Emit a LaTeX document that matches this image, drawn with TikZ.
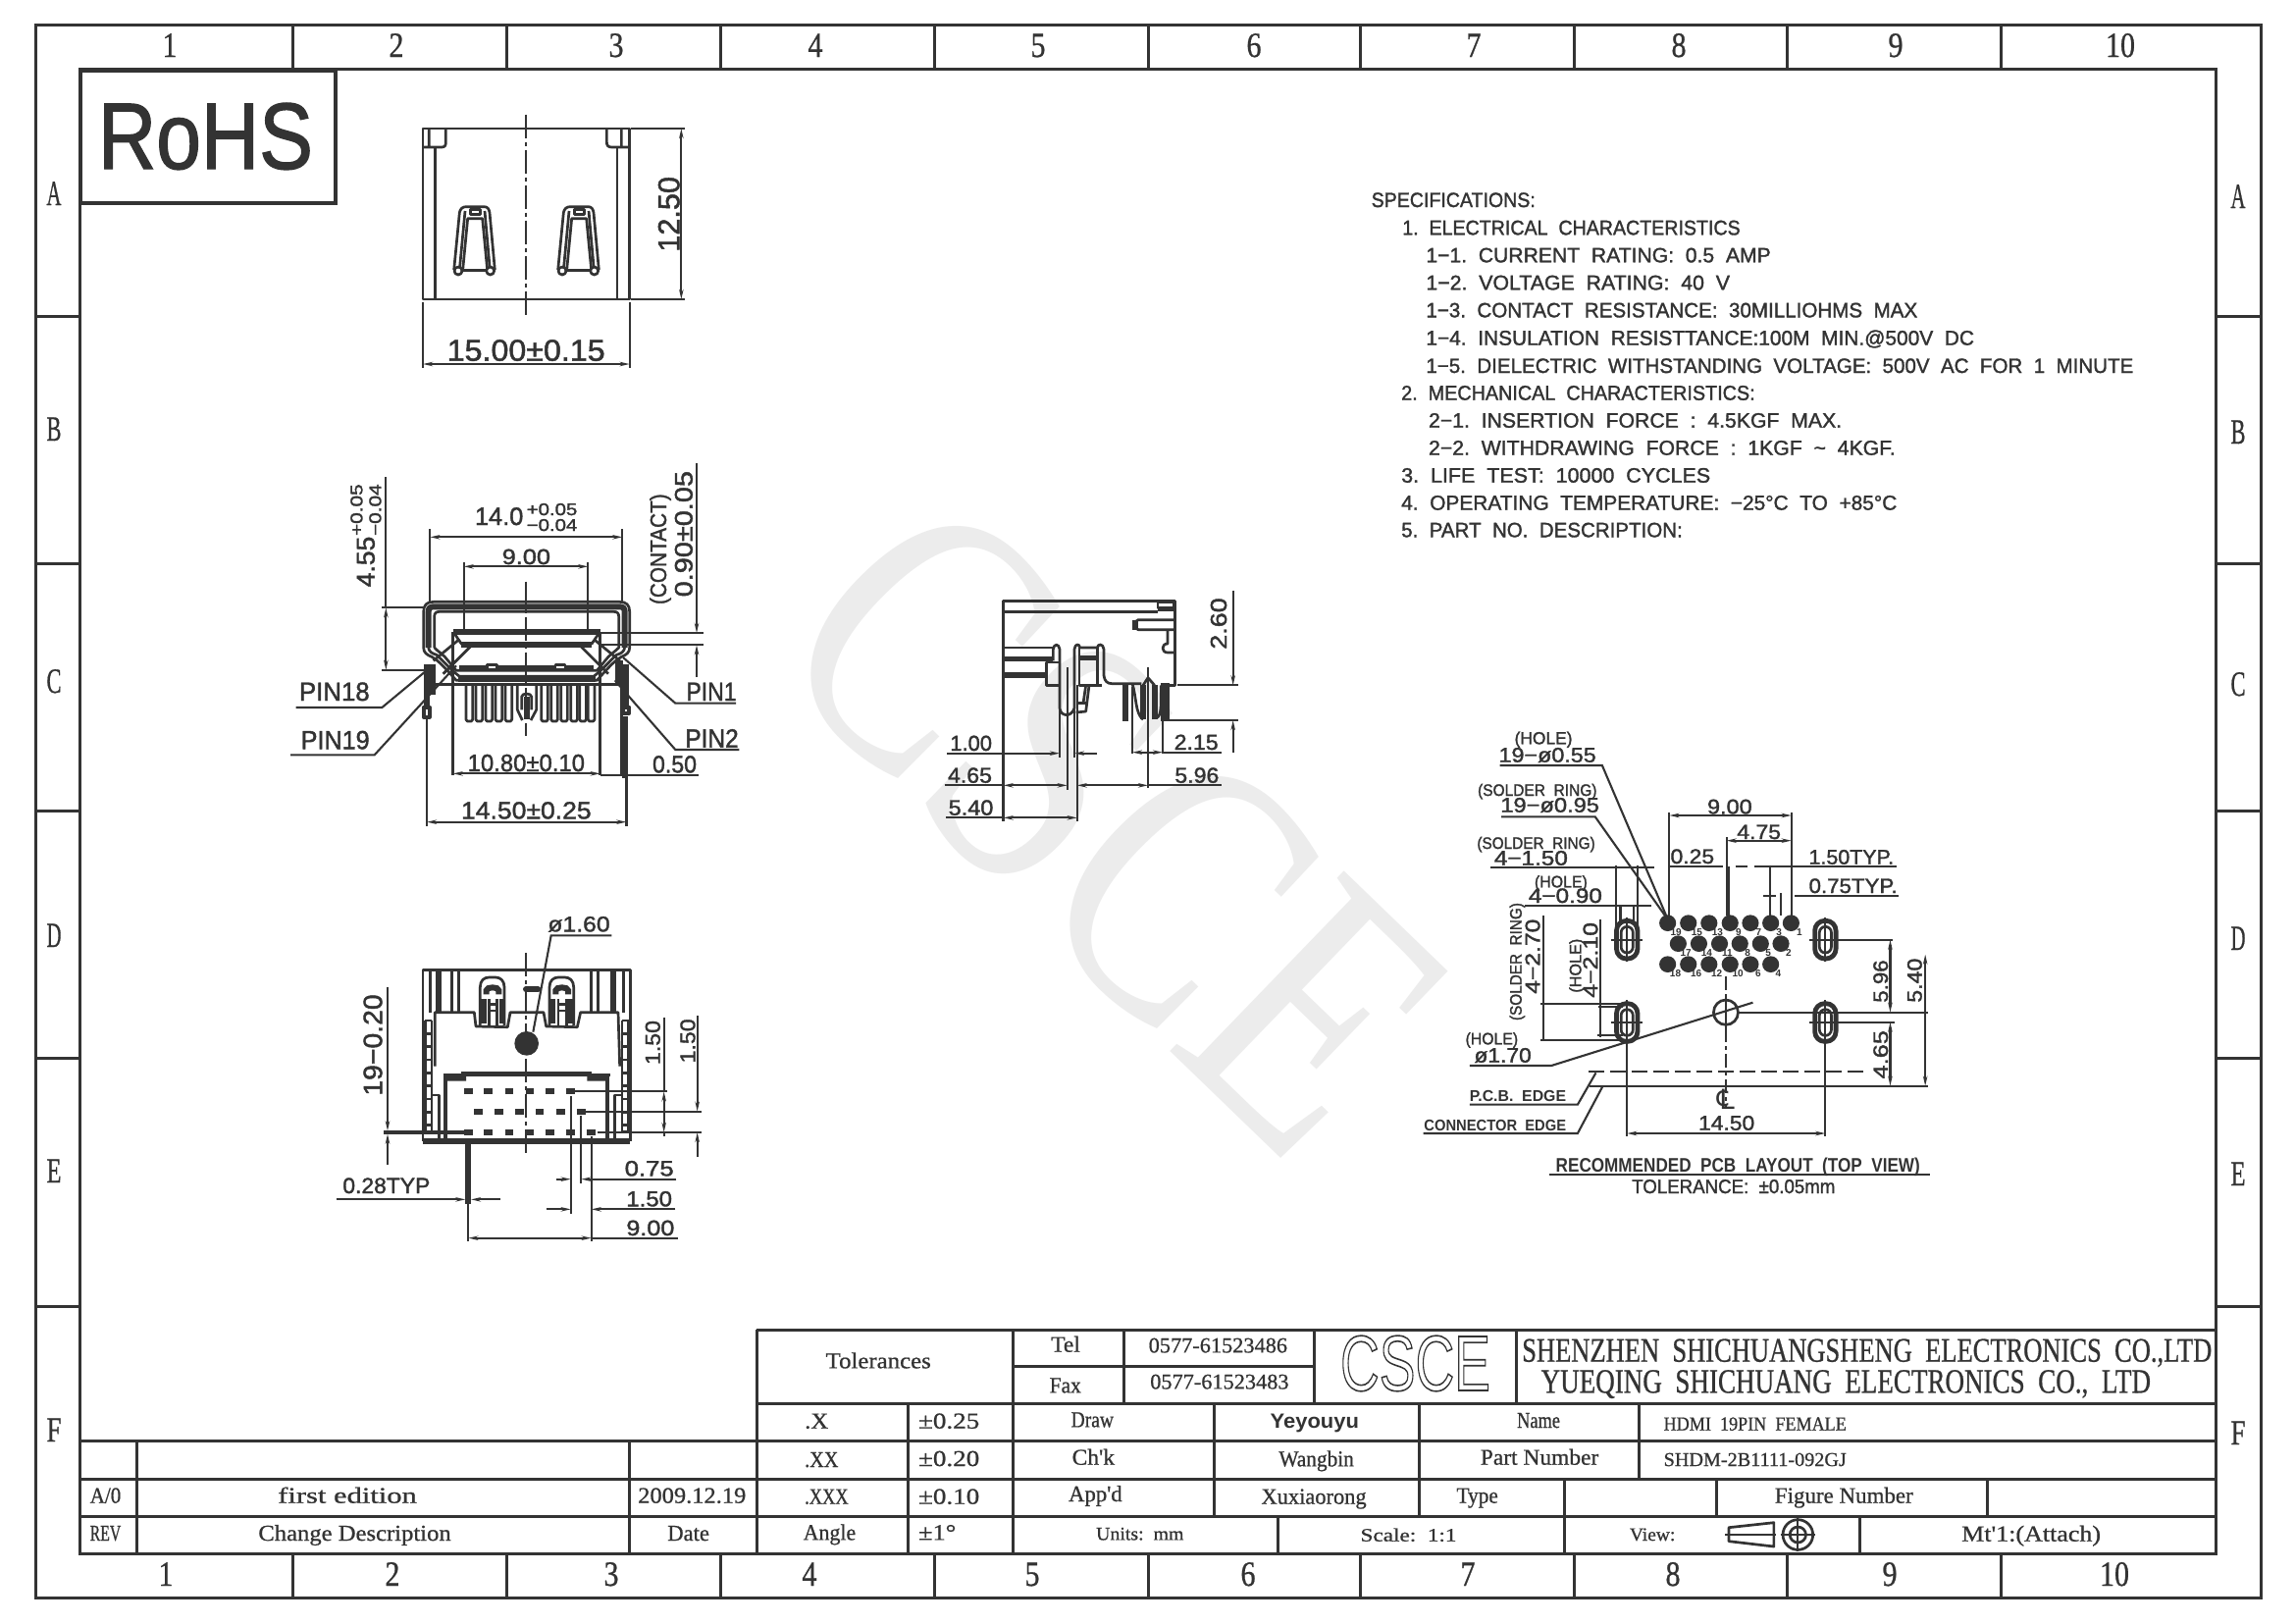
\documentclass[tikz,border=0pt]{standalone}
\usepackage{fontspec}
\usepackage{graphicx}
\setmainfont{Liberation Serif}
\setsansfont{Liberation Sans}
\newfontfamily\djv{DejaVu Sans}
\newfontfamily\eng[FakeBold=1.5]{Liberation Sans}
\newfontfamily\srf[FakeBold=0.8]{Liberation Serif}
\usetikzlibrary{arrows.meta}
\definecolor{ink}{HTML}{333333}
\definecolor{wmark}{HTML}{ECECEC}
\newdimen\wu \wu=0.5pt
\newdimen\wuv \wuv=0.5pt
\newcount\lblc
\newcommand\hS[5]{\global\advance\lblc by 1
  \node[lab,name=t\the\lblc] at (#1,#3) {\resizebox{\numexpr#2-#1\relax\wu}{\height}{\fontsize{#4}{#4}\selectfont\eng #5}};}
\newcommand\hR[5]{\global\advance\lblc by 1
  \node[lab,name=t\the\lblc] at (#1,#3) {\resizebox{\numexpr#2-#1\relax\wu}{\height}{\fontsize{#4}{#4}\selectfont\srf #5}};}
\newcommand\hB[5]{\global\advance\lblc by 1
  \node[lab,name=t\the\lblc] at (#1,#3) {\resizebox{\numexpr#2-#1\relax\wu}{\height}{\fontsize{#4}{#4}\selectfont\sffamily\bfseries #5}};}
\newcommand\hP[5]{\global\advance\lblc by 1
  \node[lab,name=t\the\lblc] at (#1,#3) {\resizebox{\numexpr#2-#1\relax\wu}{\height}{\fontsize{#4}{#4}\selectfont\sffamily #5}};}
\newcommand\vS[5]{\global\advance\lblc by 1
  \node[lab,rotate=90,name=t\the\lblc] at (#1,#2) {\resizebox{\numexpr#2-#3\relax\wuv}{\height}{\fontsize{#4}{#4}\selectfont\eng #5}};}
\newcommand\cL[4]{\global\advance\lblc by 1
  \node[lab,anchor=base,name=t\the\lblc] at (#1,#2) {\resizebox{#3\wu}{\height}{\fontsize{18}{18}\selectfont\srf #4}};}
\newcommand\pn[3]{\global\advance\lblc by 1
  \node[lab,anchor=center,name=t\the\lblc] at (#1,#2) {\fontsize{5}{5}\selectfont\sffamily\bfseries #3};}
\newcommand\hollowtext[1]{\special{pdf:literal direct 1 Tr 0.8 w}#1\special{pdf:literal direct 0 Tr}}
\begin{document}
\begin{tikzpicture}[x=0.5pt,y=-0.5pt,
  lab/.style={anchor=base west,inner sep=0pt,outer sep=0pt,text=ink},
  obj/.style={draw=ink,line width=1.35pt,line join=round},
  hvy/.style={draw=ink,line width=3pt},
  dimln/.style={draw=ink,line width=1.05pt},
  cline/.style={draw=ink,line width=1.1pt,dash pattern=on 12pt off 2pt on 2pt off 2pt},
  grid/.style={draw=ink,line width=1.5pt},
  >={Stealth[length=5pt,width=2.2pt]},
  zt/.style={x=0.166667pt,y=-0.166667pt}]
\useasboundingbox (0,0) rectangle (2339,1654);
\fill[white] (0,0) rectangle (2339,1654);
% watermark
\node[anchor=base west,inner sep=0pt,rotate=-44,text=wmark,name=wm] at (778,672)
  {\resizebox{375pt}{\height}{\fontsize{195}{195}\selectfont\rmfamily CSCE}};
% frame
\draw[grid] (36,25) rectangle (2304,1628);
\draw[grid] (81.5,70) rectangle (2258,1583);
\foreach \x in {298,516,734,952,1170,1386,1604,1821,2039}{
  \draw[grid] (\x,25)--(\x,70);
  \draw[grid] (\x,1583)--(\x,1628);}
\foreach \y in {322,574,826,1078,1331}{
  \draw[grid] (36,\y)--(81.5,\y);
  \draw[grid] (2258,\y)--(2304,\y);}
\cL{173}{58}{15}{1}\cL{404}{58}{15}{2}\cL{628}{58}{15}{3}\cL{831}{58}{15}{4}\cL{1058}{58}{15}{5}
\cL{1278}{58}{15}{6}\cL{1502}{58}{15}{7}\cL{1711}{58}{15}{8}\cL{1932}{58}{15}{9}\cL{2161}{58}{30}{10}
\cL{169}{1616}{15}{1}\cL{400}{1616}{15}{2}\cL{623}{1616}{15}{3}\cL{825}{1616}{15}{4}\cL{1052}{1616}{15}{5}
\cL{1272}{1616}{15}{6}\cL{1496}{1616}{15}{7}\cL{1705}{1616}{15}{8}\cL{1926}{1616}{15}{9}\cL{2155}{1616}{30}{10}
\cL{55}{209}{15}{A}\cL{55}{449}{15}{B}\cL{55}{706}{15}{C}\cL{55}{965}{15}{D}\cL{55}{1205}{15}{E}\cL{55}{1469}{15}{F}
\cL{2281}{212}{15}{A}\cL{2281}{452}{15}{B}\cL{2281}{709}{15}{C}\cL{2281}{968}{15}{D}\cL{2281}{1208}{15}{E}\cL{2281}{1472}{15}{F}
% RoHS
\draw[draw=ink,line width=2.4pt] (82,72) rectangle (342,207);
\hS{100}{319}{172}{48}{RoHS}
% title block grid
\draw[grid] (771,1355)--(2258,1355);
\draw[grid] (771,1355)--(771,1583);
\draw[grid] (771,1430)--(2258,1430);
\draw[grid] (81.5,1468)--(2258,1468);
\draw[grid] (81.5,1507)--(2258,1507);
\draw[grid] (81.5,1545)--(2258,1545);
\draw[grid] (1032,1392)--(1339,1392);
\draw[grid] (139,1468)--(139,1583);
\draw[grid] (641,1468)--(641,1583);
\draw[grid] (925,1430)--(925,1583);
\draw[grid] (1032,1355)--(1032,1583);
\draw[grid] (1145,1355)--(1145,1430);
\draw[grid] (1339,1355)--(1339,1430);
\draw[grid] (1545,1355)--(1545,1430);
\draw[grid] (1237,1430)--(1237,1545);
\draw[grid] (1446,1430)--(1446,1545);
\draw[grid] (1670,1430)--(1670,1507);
\draw[grid] (1594,1507)--(1594,1583);
\draw[grid] (1749,1507)--(1749,1545);
\draw[grid] (2025,1507)--(2025,1545);
\draw[grid] (1302,1545)--(1302,1583);
\draw[grid] (1895,1545)--(1895,1583);
% logo
\hP{1366}{1519}{1417}{40}{\hollowtext{CSCE}}
% title block texts
\begin{scope}[shift={(760,1340)},x=0.2551pt,y=-0.166667pt]
\wu=0.2551pt
\hR{160}{370}{163}{11.5}{Tolerances}
\hR{610}{668}{113}{11.5}{Tel}
\hR{607}{670}{238}{11.5}{Fax}
\hR{805}{1082}{115}{11}{0577-61523486}
\hR{808}{1085}{226}{11}{0577-61523483}
\hR{650}{735}{343}{11.5}{Draw}
\hR{652}{737}{458}{11.5}{Ch'k}
\hR{645}{752}{570}{11.5}{App'd}
\hR{118}{165}{347}{11.5}{.X}
\hR{118}{185}{465}{11.5}{.XX}
\hR{118}{205}{578}{11.5}{.XXX}
\hR{115}{220}{688}{11.5}{Angle}
\hR{345}{467}{347}{11.5}{±0.25}
\hR{345}{467}{462}{11.5}{±0.20}
\hR{345}{467}{578}{11.5}{±0.10}
\hR{345}{420}{688}{11.5}{±1°}
\hB{1048}{1225}{345}{10.5}{Yeyouyu}
\hR{1065}{1215}{463}{11.5}{Wangbin}
\hR{1030}{1240}{578}{11.5}{Xuxiaorong}
\hR{700}{875}{688}{9.5}{Units:~~mm}
\hR{1228}{1420}{692}{9.5}{Scale:~~1:1}
\hR{1420}{1503}{575}{11.5}{Type}
\end{scope}
\begin{scope}[shift={(1540,1340)},x=0.2551pt,y=-0.166667pt]
\wu=0.2551pt
\hR{22}{1400}{143}{17.5}{SHENZHEN~~SHICHUANGSHENG~~ELECTRONICS~~CO.,LTD}
\hR{60}{1278}{238}{17.5}{YUEQING~~SHICHUANG~~ELECTRONICS~~CO.,~~LTD}
\hR{12}{98}{345}{11.5}{Name}
\hR{-61}{175}{458}{11.5}{Part Number}
\hR{305}{670}{353}{10}{HDMI~~19PIN~~FEMALE}
\hR{305}{670}{462}{10}{SHDM-2B1111-092GJ}
\hR{527}{803}{575}{11.5}{Figure Number}
\hR{237}{328}{690}{9.5}{View:}
\hR{900}{1178}{692}{11.5}{Mt'1:(Attach)}
\draw[obj] (435,650)--(525,635)--(525,708)--(435,692)--cycle;
\draw[obj] (428,672)--(530,672);
\draw[obj] (573,672) circle[x radius=30,y radius=46];
\draw[obj] (573,672) circle[x radius=16,y radius=24];
\draw[dimln] (573,620)--(573,722);
\draw[dimln] (538,672)--(608,672);
\end{scope}
\begin{scope}[shift={(20,1400)},x=0.2424pt,y=-0.166667pt]
\wu=0.2424pt
\hR{148}{213}{395}{11.5}{A/0}
\hR{543}{835}{395}{11.5}{first edition}
\hR{1300}{1527}{395}{11.5}{2009.12.19}
\hR{148}{213}{510}{11.5}{REV}
\hR{502}{907}{510}{11.5}{Change Description}
\hR{1362}{1450}{510}{11.5}{Date}
\end{scope}
% specifications
\begin{scope}[shift={(1380,180)},x=0.2678pt,y=-0.166667pt]
\wu=0.2678pt
\hS{33}{345}{93}{10.5}{SPECIFICATIONS:}
\hS{92}{735}{178}{10.5}{1.~~ELECTRICAL~~CHARACTERISTICS}
\hS{137}{793}{262}{10.5}{1−1.~~CURRENT~~RATING:~~0.5~~AMP}
\hS{137}{715}{346}{10.5}{1−2.~~VOLTAGE~~RATING:~~40~~V}
\hS{137}{1072}{430}{10.5}{1−3.~~CONTACT~~RESISTANCE:~~30MILLIOHMS~~MAX}
\hS{137}{1180}{515}{10.5}{1−4.~~INSULATION~~RESISTTANCE:100M~~MIN.@500V~~DC}
\hS{137}{1483}{600}{10.5}{1−5.~~DIELECTRIC~~WITHSTANDING~~VOLTAGE:~~500V~~AC~~FOR~~1~~MINUTE}
\hS{90}{763}{683}{10.5}{2.~~MECHANICAL~~CHARACTERISTICS:}
\hS{142}{928}{767}{10.5}{2−1.~~INSERTION~~FORCE~~:~~4.5KGF~~MAX.}
\hS{142}{1030}{851}{10.5}{2−2.~~WITHDRAWING~~FORCE~~:~~1KGF~~\textasciitilde{}~~4KGF.}
\hS{90}{678}{935}{10.5}{3.~~LIFE~~TEST:~~10000~~CYCLES}
\hS{90}{1033}{1019}{10.5}{4.~~OPERATING~~TEMPERATURE:~~−25°C~~TO~~+85°C}
\hS{90}{625}{1102}{10.5}{5.~~PART~~NO.~~DESCRIPTION:}
\end{scope}
% ------- top view
\begin{scope}[shift={(280,100)},zt]
\wu=0.166667pt \wuv=0.166667pt
\draw[obj] (453,93) rectangle (1085,615);
\draw[obj] (490,150)--(490,615) (1047,150)--(1047,615);
\draw[obj] (453,150)--(510,150)..controls (520,150) and (523,145)..(523,135)--(523,93) (472,93)--(472,150);
\draw[obj] (1085,150)--(1030,150)..controls (1020,150) and (1015,145)..(1015,135)--(1015,93) (1060,93)--(1060,150);
\draw[cline] (769,50)--(769,668);
\foreach \dx in {0,318}{
\begin{scope}[shift={(\dx,0)}]
\draw[obj] (548,525)--(565,350)..controls (567,338) and (575,332)..(585,332)--(640,332)..controls (650,332) and (655,338)..(657,350)--(673,525);
\draw[obj] (575,525)--(590,368)--(635,368)--(650,525);
\draw[obj] (565,525)--(582,345) (658,525)--(642,345);
\draw[obj] (575,527)--(647,527);
\draw[obj] (598,340) rectangle (628,356);
\draw[obj,fill=white] (561,528) circle[radius=12];
\draw[obj,fill=white] (659,528) circle[radius=12];
\end{scope}}
\draw[dimln] (1090,93)--(1255,93) (1090,615)--(1255,615);
\draw[dimln,<->] (1243,93)--(1243,615);
\vS{1237}{470}{240}{15.4}{12.50}
\draw[dimln] (453,625)--(453,825) (1085,625)--(1085,825);
\draw[dimln,<->] (453,813)--(1085,813);
\hS{527}{1010}{803}{15.4}{15.00±0.15}
\end{scope}
% ------- front view
\begin{scope}[shift={(280,460)},zt]
\wu=0.166667pt \wuv=0.166667pt
\draw[obj] (455,600)--(455,490)..controls (455,470) and (465,460)..(485,460)--(1055,460)..controls (1075,460) and (1085,470)..(1085,490)--(1085,600)..controls (1085,615) and (1075,622)..(1060,628)..controls (1040,640) and (1030,650)..(985,700)--(555,700)..controls (510,650) and (500,640)..(480,628)..controls (465,622) and (455,615)..(455,600);
\draw[hvy] (470,600)--(470,490)..controls (470,480) and (475,475)..(485,475)--(1055,475)..controls (1065,475) and (1070,480)..(1070,490)--(1070,600);
\draw[obj] (470,600)..controls (472,612) and (480,618)..(495,622)..controls (515,640) and (535,665)..(565,688)--(975,688)..controls (1005,665) and (1025,640)..(1045,622)..controls (1060,618) and (1068,612)..(1070,600);
\draw[obj] (488,600)--(488,505)..controls (488,495) and (493,490)..(503,490)--(1037,490)..controls (1047,490) and (1052,495)..(1052,505)--(1052,600)..controls (1040,612) and (1030,618)..(1020,628)--(985,670)--(555,670)--(520,628)..controls (510,618) and (500,612)..(488,600);
\draw[hvy] (560,695)--(980,695);
\draw[hvy] (545,552)--(995,552);
\draw[hvy] (570,592)--(970,592);
\draw[obj] (545,552)--(545,990) (995,552)--(995,990);
\draw[obj] (548,555)--(572,590) (992,555)--(968,590);
\draw[obj] (600,595)--(515,680) (935,595)--(1020,680);
\draw[obj] (560,578)--(485,640) (980,578)--(1055,640);
\draw[hvy] (565,662)--(975,662);
\draw[obj,fill=white] (650,652) rectangle (680,666);
\draw[obj,fill=white] (858,652) rectangle (888,666);
\draw[obj] (490,712)--(1060,712);
\foreach \x in {585,615,645,675,705,815,845,875,905,932,958}{
  \draw[obj] (\x,712)--(\x,820)--(\x+4,825)--(\x+16,825)--(\x+20,820)--(\x+20,712);}
\draw[obj] (742,712)--(742,790)--(757,822) (800,712)--(800,790)--(783,822);
\draw[obj] (755,790)--(755,750)..controls (755,738) and (785,738)..(785,750)--(785,790);
\draw[hvy] (770,750)--(770,820);
\draw[cline] (769,398)--(769,870);
\draw[hvy] (482,650)--(482,745);
\draw[hvy] (465,650)--(465,780);
\draw[obj,line width=2pt] (455,782) rectangle (473,812);
\draw[obj] (465,812)--(465,1145);
\draw[hvy] (1055,640)--(1055,715);
\draw[obj] (1045,640)--(1045,715) (1060,715)--(1060,990);
\draw[hvy] (1075,650)--(1075,780);
\draw[obj,line width=2pt] (1066,782) rectangle (1084,800);
\draw[hvy] (1072,810)--(1072,1000);
\draw[obj] (1075,1000)--(1075,1145);
% dims
\draw[dimln] (475,237)--(475,460) (1063,237)--(1063,460);
\draw[dimln,<->] (475,262)--(1063,262);
\hS{612}{760}{225}{12.8}{14.0}
\hS{770}{925}{195}{8.6}{+0.05}
\hS{770}{925}{243}{8.6}{−0.04}
\draw[dimln] (578,340)--(578,550) (958,340)--(958,550);
\draw[dimln,<->] (578,352)--(958,352);
\hS{695}{843}{345}{11}{9.00}
\draw[dimln] (328,478)--(460,478) (328,668)--(460,668);
\draw[dimln] (340,78)--(340,478);
\draw[dimln,<->] (340,478)--(340,668);
\vS{305}{415}{260}{13}{4.55}
\vS{268}{258}{100}{8.6}{+0.05}
\vS{325}{258}{100}{8.6}{−0.04}
\vS{1197}{468}{130}{11.6}{(CONTACT)}
\vS{1277}{445}{60}{12.8}{0.90±0.05}
\draw[dimln] (995,555)--(1310,555) (995,592)--(1310,592);
\draw[dimln,->] (1290,37)--(1290,555);
\draw[dimln,->] (1290,690)--(1290,592);
\hS{75}{290}{762}{13.3}{PIN18}
\draw[dimln] (65,783)--(328,783)--(470,665);
\hS{80}{290}{910}{13.3}{PIN19}
\draw[dimln] (48,928)--(305,928)--(555,655);
\hS{1258}{1412}{762}{13.3}{PIN1}
\draw[dimln] (1410,770)--(1225,770)--(1065,630);
\hS{1255}{1418}{905}{13.3}{PIN2}
\draw[dimln] (1420,912)--(1225,912)--(1040,700);
\hS{590}{948}{978}{12.3}{10.80±0.10}
\draw[dimln,<->] (545,985)--(995,985);
\hS{1155}{1290}{982}{12.3}{0.50}
\draw[dimln] (995,990)--(1295,990);
\hS{570}{968}{1123}{12.3}{14.50±0.25}
\draw[dimln,<->] (465,1133)--(1075,1133);
\end{scope}
% ------- bottom view
\begin{scope}[shift={(330,920)},zt]
\wu=0.166667pt \wuv=0.166667pt
\draw[obj] (303,728)--(303,205)--(937,205)--(937,728);
\draw[hvy] (303,728)--(937,728);
\foreach \x in {325,392,413,817,838,917}{\draw[obj] (\x,205)--(\x,335);}
\draw[hvy] (352,205)--(352,335) (885,205)--(885,335);
\draw[obj] (340,500)--(340,335)--(460,335)--(465,378)--(562,380)--(570,335)--(672,335)--(680,378)--(775,380)--(785,335)--(900,335)--(905,500);
\foreach \dx in {0,212}{
\begin{scope}[shift={(\dx,0)}]
\draw[obj] (478,375)--(478,258)..controls (478,238) and (490,228)..(505,228)--(525,228)..controls (540,228) and (552,238)..(552,258)--(552,375);
\draw[hvy] (497,280)--(497,268)..controls (497,256) and (535,256)..(535,268)--(535,280);
\draw[hvy] (488,295)--(488,370) (545,295)--(545,370);
\draw[obj] (505,310)--(530,310) (505,330)--(530,330) (505,295)--(505,375) (530,295)--(530,375);
\end{scope}}
\draw[hvy,line cap=round] (618,265)--(655,265);
\draw[cline] (618,153)--(618,770);
\fill[ink] (620,430) circle[radius=37];
\draw[dimln] (880,100)--(695,100)--(640,395);
\hS{685}{875}{88}{11}{ø1.60}
\foreach \x in {310,330,912,932}{\draw[obj] (\x,360)--(\x,700);}
\foreach \y in {360,400,440,480,520,560,600,640,680,700}{
  \draw[obj] (310,\y)--(330,\y) (912,\y)--(932,\y);}
\draw[obj] (330,588)--(352,588)--(352,725) (910,588)--(890,588)--(890,725);
\draw[line width=2pt,draw=ink] (372,527)--(372,725) (867,527)--(867,725);
\draw[obj] (365,527)--(875,527) (420,520)--(820,520);
\fill[ink] (378,527) rectangle (435,545) (805,527) rectangle (862,545);
\foreach \x in {442,503,567,630,692,755}{\fill[ink] (\x-13,568) rectangle (\x+13,586);}
\foreach \x in {472,535,598,660,725,787}{\fill[ink] (\x-13,630) rectangle (\x+13,647);}
\foreach \x in {442,503,567,630,692,755,818}{\fill[ink] (\x-13,693) rectangle (\x+13,711);}
\draw[line width=2.2pt,draw=ink] (183,702)--(430,702);
\fill[ink] (433,730) rectangle (450,920);
\draw[dimln] (768,577)--(1050,577) (800,638)--(1155,638) (838,702)--(1155,702);
\draw[dimln,<->] (1040,577)--(1040,702);
\draw[dimln] (1040,350)--(1040,577) (1040,702)--(1040,715);
\draw[dimln,->] (1142,345)--(1142,638);
\draw[dimln,->] (1142,778)--(1142,702);
\vS{1028}{495}{360}{10.7}{1.50}
\vS{1135}{490}{355}{10.7}{1.50}
\vS{178}{590}{280}{13.5}{19−0.20}
\draw[dimln,->] (195,258)--(195,697);
\draw[dimln,->] (195,800)--(195,707);
\hS{58}{325}{888}{11.2}{0.28TYP}
\draw[dimln,->] (38,907)--(433,907);
\draw[dimln,->] (540,907)--(450,907);
\draw[dimln] (442,920)--(442,1035);
\draw[dimln] (755,590)--(755,950) (787,650)--(787,858) (818,715)--(818,1035);
\draw[dimln,->] (710,845)--(755,845);
\draw[dimln,->] (1078,845)--(787,845);
\hS{920}{1070}{835}{11}{0.75}
\draw[dimln,->] (680,937)--(755,937);
\draw[dimln,->] (1075,937)--(818,937);
\hS{925}{1065}{928}{11}{1.50}
\draw[dimln] (818,1025)--(1082,1025);
\draw[dimln,<->] (442,1025)--(818,1025);
\hS{925}{1072}{1017}{11}{9.00}
\end{scope}
% ------- side view
\begin{scope}[shift={(950,590)},zt]
\wu=0.166667pt \wuv=0.166667pt
\draw[obj] (218,740)--(218,68)--(743,68)--(743,325)--(725,325);
\draw[obj] (218,100)--(690,100);
\draw[obj] (690,72) rectangle (740,88);
\fill[ink] (690,88) rectangle (740,100);
\draw[obj] (740,125)--(630,125)..controls (618,125) and (618,155)..(630,155)--(740,155);
\draw[hvy] (622,125)--(622,155);
\draw[obj] (720,155)--(720,198)..controls (700,198) and (700,225)..(720,225)--(740,225);
\draw[obj] (218,210)--(370,210) (218,290)--(350,290) (218,298)--(350,298);
\fill[ink] (218,238) rectangle (370,252);
\draw[obj] (390,255)--(350,255)--(350,325)--(390,325);
\draw[obj] (370,250)--(370,215)..controls (372,197) and (388,197)..(390,215)--(390,395)..controls (392,420) and (425,425)..(435,395)--(435,215)..controls (437,197) and (450,197)..(452,210)--(505,210)..controls (507,197) and (523,197)..(525,215)--(525,295)..controls (527,312) and (535,320)..(550,320)--(640,320);
\draw[obj] (450,210)--(450,325)--(520,325) (505,210)--(505,325);
\fill[ink] (450,235) rectangle (505,248);
\draw[obj] (480,325)--(470,405)--(440,408) (470,325)--(462,380);
\draw[obj] (445,380)--(475,380);
\draw[hvy] (590,320)--(590,435);
\draw[obj] (612,320)..controls (625,360) and (620,410)..(645,430) (700,325)..controls (698,370) and (705,420)..(685,425);
\draw[hvy] (645,430)--(645,325) (680,430)--(680,325);
\draw[obj] (645,325)--(660,302)--(680,325);
\fill[ink] (700,318) rectangle (725,435);
\draw[dimln] (413,270)--(413,645) (443,325)--(443,740) (390,400)--(390,545) (435,400)--(435,545) (612,330)--(612,535) (705,435)--(705,535) (660,270)--(660,640);
\draw[dimln] (750,325)--(935,325) (725,432)--(935,432);
\draw[dimln,->] (920,35)--(920,325);
\draw[dimln,->] (920,530)--(920,432);
\vS{900}{215}{58}{11.6}{2.60}
\hS{55}{183}{525}{11}{1.00}
\draw[dimln,->] (45,533)--(390,533);
\draw[dimln,->] (505,533)--(435,533);
\hS{740}{875}{522}{11}{2.15}
\draw[dimln] (885,530)--(705,530);
\draw[dimln,<->] (612,530)--(705,530);
\hS{48}{183}{623}{11}{4.65}
\draw[dimln] (38,631)--(218,631);
\draw[dimln,<->] (218,631)--(413,631);
\hS{742}{877}{623}{11}{5.96}
\draw[dimln] (885,631)--(660,631);
\draw[dimln,<->] (443,631)--(660,631);
\hS{50}{187}{722}{11}{5.40}
\draw[dimln] (42,730)--(218,730);
\draw[dimln,<->] (218,730)--(443,730);
\end{scope}
% ------- PCB layout
\begin{scope}[shift={(1440,730)},x=0.17857pt,y=-0.166667pt]
\wu=0.17857pt \wuv=0.166667pt
\foreach \x/\l in {727/19,786/15,845/13,905/9,963/7,1021/3,1079/1}{
  \fill[ink] (\x,632) circle[x radius=24,y radius=25];
  \pn{\x+24}{660}{\l}}
\foreach \x/\l in {757/17,816/14,875/11,933/8,992/5,1050/2}{
  \fill[ink] (\x,695) circle[x radius=24,y radius=25];
  \pn{\x+22}{722}{\l}}
\foreach \x/\l in {727/18,786/16,845/12,905/10,963/6,1021/4}{
  \fill[ink] (\x,758) circle[x radius=24,y radius=25];
  \pn{\x+22}{786}{\l}}
\foreach \cx/\cy in {611/683,611/936,1177/683,1177/936}{
  \draw[obj,line width=2.4pt,rounded corners=5pt] ({\cx-30},{\cy-58}) rectangle ({\cx+30},{\cy+58});
  \draw[obj,rounded corners=3pt] ({\cx-17},{\cy-40}) rectangle ({\cx+17},{\cy+40});
  \draw[dimln] (\cx,{\cy-68})--(\cx,{\cy+68}) ({\cx-45},\cy)--({\cx+45},\cy);}
\draw[obj] (893,905) circle[x radius=35,y radius=38];
\draw[dimln] (893,855)--(893,955);
\draw[dimln,dash pattern=on 7pt off 2pt on 2pt off 2pt] (893,795)--(893,855) (893,955)--(893,1200);
\draw[dimln] (248,150)--(540,150)--(725,615);
\hS{290}{455}{85}{8.8}{(HOLE)}
\hS{245}{523}{140}{10.5}{19−ø0.55}
\hS{185}{525}{243}{8.4}{(SOLDER~~RING)}
\hS{250}{532}{293}{10.5}{19−ø0.95}
\draw[dimln] (252,307)--(520,307)--(720,610);
\hS{183}{520}{405}{8.4}{(SOLDER~~RING)}
\hS{232}{442}{455}{10.5}{4−1.50}
\draw[dimln] (222,463)--(690,463);
\hS{347}{498}{523}{8.4}{(HOLE)}
\hS{330}{540}{570}{10.5}{4−0.90}
\draw[dimln] (320,578)--(680,578);
\draw[dimln] (580,455)--(580,680) (640,455)--(640,680) (592,578)--(592,640) (630,578)--(630,640);
\hS{840}{968}{298}{10.5}{9.00}
\draw[dimln,<->] (732,303)--(1080,303);
\draw[dimln] (730,295)--(730,610) (1080,295)--(1080,610);
\hS{925}{1050}{375}{10.5}{4.75}
\draw[dimln,<->] (895,380)--(1080,380);
\draw[dimln] (895,370)--(895,460);
\draw[hvy,line width=2pt] (900,460)--(900,610);
\hS{735}{860}{450}{10.5}{0.25}
\draw[dimln] (730,458)--(885,458) (920,458)--(955,458) (975,458)--(1095,458);
\hS{1130}{1372}{452}{10.5}{1.50TYP.}
\draw[dimln] (1095,460)--(1380,460);
\draw[dimln] (1020,455)--(1020,610) (1050,540)--(1050,610);
\hS{1130}{1382}{540}{10.5}{0.75TYP.}
\draw[dimln] (1090,548)--(1385,548) (1000,548)--(1035,548);
\vS{310}{930}{570}{8.4}{(SOLDER~~RING)}
\vS{362}{848}{620}{10.5}{4−2.70}
\draw[dimln] (372,610)--(372,990) (365,878)--(590,878) (365,990)--(600,990);
\vS{480}{845}{680}{8.4}{(HOLE)}
\vS{527}{860}{630}{10.5}{4−2.10}
\draw[dimln] (535,622)--(535,980) (530,888)--(600,888) (525,975)--(600,975);
\hS{150}{300}{1003}{8.4}{(HOLE)}
\hS{175}{338}{1058}{10.5}{ø1.70}
\draw[dimln] (162,1068)--(395,1068)--(970,875);
\draw[dimln] (930,905)--(1470,905) (1210,935)--(1375,935) (1210,683)--(1370,683);
\draw[dimln,<->] (1362,683)--(1362,905);
\draw[dimln,<->] (1362,935)--(1362,1130);
\draw[dimln,<->] (1462,728)--(1462,1130);
\vS{1355}{875}{745}{10.5}{5.96}
\vS{1355}{1108}{960}{10.5}{4.65}
\vS{1452}{875}{740}{10.5}{5.40}
\draw[dimln,dash pattern=on 8pt off 3pt] (500,1087)--(1290,1087);
\draw[dimln] (505,1130)--(1470,1130);
\draw[dimln] (611,995)--(611,1285) (1177,995)--(1177,1285);
\draw[dimln,<->] (611,1275)--(1177,1275);
\hS{815}{975}{1265}{10.5}{14.50}
\node[lab,anchor=center,name=cl] at (893,1172) {\fontsize{14}{14}\selectfont\djv ℄};
\hB{162}{437}{1178}{8}{P.C.B.~~EDGE}
\draw[dimln] (162,1187)--(470,1187)--(522,1090);
\hB{32}{437}{1268}{8}{CONNECTOR~~EDGE}
\draw[dimln] (30,1275)--(470,1275)--(542,1130);
\hB{408}{1447}{1393}{10}{RECOMMENDED~~PCB~~LAYOUT~~(TOP~~VIEW)}
\draw[dimln] (388,1402)--(1475,1402);
\hS{625}{1205}{1458}{10}{TOLERANCE:~~±0.05mm}
\end{scope}
\end{tikzpicture}
\end{document}
